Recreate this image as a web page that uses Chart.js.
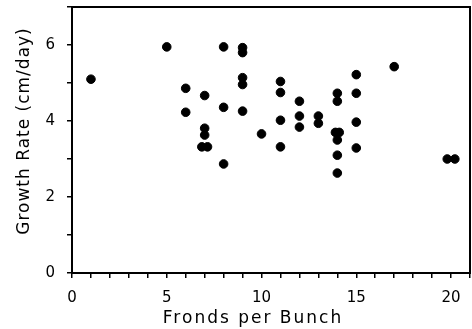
<!DOCTYPE html>
<html>
<head>
<meta charset="utf-8">
<script src="https://cdn.jsdelivr.net/npm/chart.js@4"></script>
<style>
  html, body { margin: 0; padding: 0; background: #fff; }
  #wrap { width: 472px; height: 329px; }
</style>
</head>
<body>
<div id="wrap"><canvas id="graf"></canvas></div>
<script>
// valores (frondes por cacho, taxa de crescimento)
const frondes = [1, 5, 6, 6, 7, 7, 7, 6.85, 7.15, 8, 8, 8, 9, 9, 9, 9, 9, 10,
  11, 11, 11, 11, 12, 12, 12, 13, 13, 14, 14, 13.9, 14.1, 14, 14, 14,
  15, 15, 15, 15, 17, 19.8, 20.2];
const crescimento = [5.1, 5.95, 4.86, 4.23, 4.67, 3.81, 3.63, 3.32, 3.32, 5.95, 4.36, 2.87,
  5.93, 5.8, 5.14, 4.96, 4.26, 3.66,
  5.04, 4.75, 4.02, 3.32, 4.52, 4.13, 3.84, 4.13, 3.94,
  4.73, 4.52, 3.7, 3.7, 3.5, 3.1, 2.63,
  5.22, 4.73, 3.97, 3.29, 5.43, 3.0, 3.0];
const ticksX = [0, 5, 10, 15, 20];
const ticksY = [0, 2, 4, 6];

const pontos = frondes.map((f, i) => ({ x: f, y: crescimento[i] }));

// escala linear com título espaçado (fonte do original é bem larga)
class EscalaEspacada extends Chart.LinearScale {
  drawTitle() {
    const ctx = this.ctx;
    ctx.save();
    if (this.axis === "x") {
      ctx.letterSpacing = "2px";
      ctx.translate(-18, 0);
    } else {
      ctx.letterSpacing = "1px";
      ctx.translate(0, -9);
    }
    super.drawTitle();
    ctx.restore();
  }
}
EscalaEspacada.id = "espacada";
EscalaEspacada.defaults = Chart.LinearScale.defaults;
Chart.register(EscalaEspacada);

// moldura em volta da área do gráfico
const moldura = {
  id: "moldura",
  afterDraw(chart) {
    const { ctx, chartArea: a } = chart;
    ctx.save();
    ctx.strokeStyle = "#000";
    ctx.lineWidth = 2;
    ctx.strokeRect(a.left, a.top, a.right - a.left, a.bottom - a.top);
    ctx.restore();
  }
};

const semPadding = s => {
  s.paddingTop = 0; s.paddingBottom = 0; s.paddingLeft = 0; s.paddingRight = 0;
};

const fonteTick = { family: "DejaVu Sans", size: 15 };
const fonteTitulo = { family: "DejaVu Sans", size: 17 };

new Chart(document.getElementById("graf"), {
  type: "scatter",
  data: {
    datasets: [{
      data: pontos,
      backgroundColor: "#000",
      borderColor: "#000",
      pointRadius: 4.3,
      pointHoverRadius: 4.3
    }]
  },
  options: {
    responsive: true,
    maintainAspectRatio: false,
    animation: false,
    layout: { autoPadding: false, padding: { top: 7, right: 2, left: 0, bottom: 0 } },
    plugins: { legend: { display: false }, tooltip: { enabled: false } },
    scales: {
      x: {
        type: "espacada",
        min: 0, max: 21,
        afterFit: s => { s.height = 56; semPadding(s); },
        border: { color: "#000", width: 2 },
        grid: { drawOnChartArea: false, drawTicks: true, tickLength: 5, color: "#000", lineWidth: 1.5 },
        ticks: {
          stepSize: 1, autoSkip: false, maxRotation: 0, color: "#000", font: fonteTick, padding: 11,
          callback: v => ticksX.includes(v) ? String(v) : ""
        },
        title: { display: true, text: "Fronds per Bunch", color: "#000", font: fonteTitulo, padding: { top: -9, bottom: 0 } }
      },
      y: {
        type: "espacada",
        min: 0, max: 7,
        afterFit: s => { s.width = 72; semPadding(s); },
        border: { color: "#000", width: 2 },
        grid: { drawOnChartArea: false, drawTicks: true, tickLength: 5, color: "#000", lineWidth: 1.5 },
        ticks: {
          stepSize: 1, autoSkip: false, color: "#000", font: fonteTick, padding: 12,
          callback: v => ticksY.includes(v) ? String(v) : ""
        },
        title: { display: true, text: "Growth Rate (cm/day)", color: "#000", font: fonteTitulo, padding: { top: 14, bottom: 0 } }
      }
    }
  },
  plugins: [moldura]
});
</script>
</body>
</html>
